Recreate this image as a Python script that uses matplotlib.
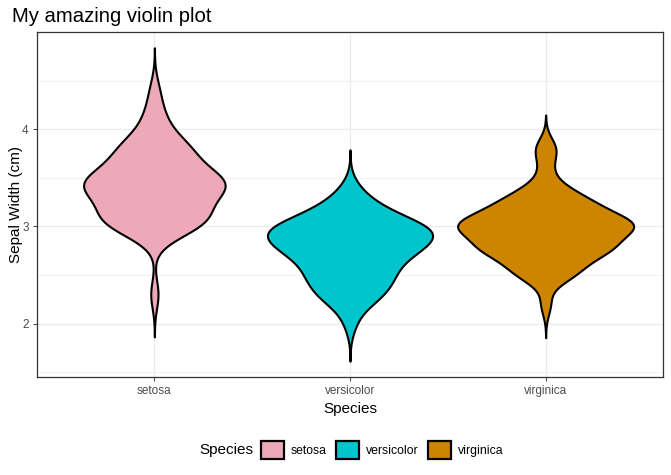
import numpy as np
import matplotlib.pyplot as plt
from matplotlib.patches import Patch

plt.rcParams['font.family'] = ['Liberation Sans', 'DejaVu Sans']

species = ["setosa", "versicolor", "virginica"]
colors = ["#EEA9B8", "#00C5CD", "#CD8500"]

setosa = [3.5, 3.0, 3.2, 3.1, 3.6, 3.9, 3.4, 3.4, 2.9, 3.1, 3.7, 3.4, 3.0, 3.0, 4.0,
          4.4, 3.9, 3.5, 3.8, 3.8, 3.4, 3.7, 3.6, 3.3, 3.4, 3.0, 3.4, 3.5, 3.4, 3.2,
          3.1, 3.4, 4.1, 4.2, 3.1, 3.2, 3.5, 3.6, 3.0, 3.4, 3.5, 2.3, 3.2, 3.5, 3.8,
          3.0, 3.8, 3.2, 3.7, 3.3]
versicolor = [3.2, 3.2, 3.1, 2.3, 2.8, 2.8, 3.3, 2.4, 2.9, 2.7, 2.0, 3.0, 2.2, 2.9, 2.9,
              3.1, 3.0, 2.7, 2.2, 2.5, 3.2, 2.8, 2.5, 2.8, 2.9, 3.0, 2.8, 3.0, 2.9, 2.6,
              2.4, 2.4, 2.7, 2.7, 3.0, 3.4, 3.1, 2.3, 3.0, 2.5, 2.6, 3.0, 2.6, 2.3, 2.7,
              3.0, 2.9, 2.9, 2.5, 2.8]
virginica = [3.3, 2.7, 3.0, 2.9, 3.0, 3.0, 2.5, 2.9, 2.5, 3.6, 3.2, 2.7, 3.0, 2.5, 2.8,
             3.2, 3.0, 3.8, 2.6, 2.2, 3.2, 2.8, 2.8, 2.7, 3.3, 3.2, 2.8, 3.0, 2.8, 3.0,
             2.8, 3.8, 2.8, 2.8, 2.6, 3.0, 3.4, 3.1, 3.0, 3.1, 3.1, 3.1, 2.7, 3.2, 3.3,
             3.0, 2.5, 3.0, 3.4, 3.0]
groups = [setosa, versicolor, virginica]


def bw_nrd0(x):
    x = np.asarray(x)
    hi = x.std(ddof=1)
    iqr = np.subtract(*np.percentile(x, [75, 25]))
    lo = min(hi, iqr / 1.34)
    return 0.9 * lo * len(x) ** (-0.2)


# gaussian kde like ggplot's stat_ydensity(trim = FALSE)
dens = []
for g in groups:
    x = np.asarray(g)
    bw = bw_nrd0(x)
    y = np.linspace(x.min() - 3 * bw, x.max() + 3 * bw, 512)
    d = np.exp(-0.5 * ((y[:, None] - x[None, :]) / bw) ** 2).sum(1) / (len(x) * bw * np.sqrt(2 * np.pi))
    dens.append((y, d))
dmax = max(d.max() for _, d in dens)

fig = plt.figure(figsize=(6.71, 4.75), dpi=100)
ax = fig.add_axes([37 / 671, 98 / 475, 626 / 671, 345 / 475])

for i, ((y, d), c) in enumerate(zip(dens, colors)):
    w = 0.45 * d / dmax
    ax.fill_betweenx(y, i + 1 - w, i + 1 + w, facecolor=c, edgecolor="black",
                     linewidth=1.5, zorder=3)

ax.set_xlim(0.4, 3.6)
ax.set_ylim(1.45, 5.0)
ax.set_xticks([1, 2, 3])
ax.set_xticklabels(species)
ax.set_yticks([2, 3, 4])
ax.set_yticks([1.5, 2.5, 3.5, 4.5], minor=True)
ax.grid(True, which="major", color="#EBEBEB", linewidth=0.9, zorder=0)
ax.grid(True, which="minor", color="#EBEBEB", linewidth=0.5, zorder=0)
ax.set_axisbelow(True)
ax.tick_params(axis="both", which="major", labelsize=8.5, colors="#4D4D4D",
               length=3, width=0.8, pad=3)
ax.tick_params(axis="both", which="minor", length=0)
for lab in ax.get_xticklabels() + ax.get_yticklabels():
    lab.set_color("#4D4D4D")
for s in ax.spines.values():
    s.set_color("#333333")
    s.set_linewidth(0.9)

ax.set_xlabel("Species", fontsize=11, labelpad=3)
ax.set_ylabel("Sepal Width (cm)", fontsize=11)
ax.yaxis.set_label_coords(-0.0224, 0.5)
fig.text(12 / 671, 1 - 17 / 475, "My amazing violin plot", fontsize=14.6, va="center")

handles = [Patch(facecolor=c, edgecolor="black", linewidth=1.6) for c in colors]
fig.legend(handles, species, loc="center", bbox_to_anchor=(382 / 671, 1 - 450 / 475),
           ncol=3, frameon=False, fontsize=8.8, handlelength=1.9, handleheight=1.9,
           handletextpad=0.55, columnspacing=0.75)
fig.text(199 / 671, 1 - 450 / 475, "Species", fontsize=11, va="center")

fig.savefig("out.png", dpi=100)
